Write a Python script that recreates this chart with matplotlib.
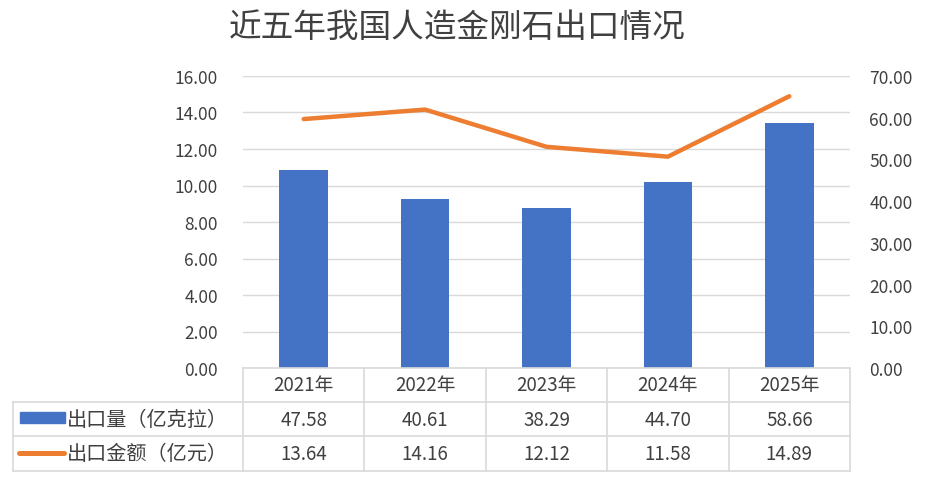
import matplotlib
matplotlib.use("Agg")
import matplotlib.pyplot as plt
from matplotlib.lines import Line2D
from matplotlib.patches import Rectangle

plt.rcParams['font.family'] = ['Noto Sans CJK SC', 'DejaVu Sans']

title = "近五年我国人造金刚石出口情况"
years = ["2021年", "2022年", "2023年", "2024年", "2025年"]
volume = [47.58, 40.61, 38.29, 44.70, 58.66]   # 出口量（亿克拉） – right axis
value = [13.64, 14.16, 12.12, 11.58, 14.89]    # 出口金额（亿元） – left axis
vol_label = "出口量（亿克拉）"
val_label = "出口金额（亿元）"
left_ticks = [0, 2, 4, 6, 8, 10, 12, 14, 16]
right_ticks = [0, 10, 20, 30, 40, 50, 60, 70]

BLUE = "#4472C4"
ORANGE = "#ED7D31"
GRID = "#D9D9D9"
TXT = "#404040"

W, H = 930, 481
fig = plt.figure(figsize=(W/100, H/100), dpi=100)

x0, x1, ytop, ybot = 243, 850, 77, 369
ax = fig.add_axes([x0/W, 1-ybot/H, (x1-x0)/W, (ybot-ytop)/H])
ax2 = ax.twinx()
ax.set_zorder(ax2.get_zorder()+1)
ax.patch.set_visible(False)

xs = list(range(len(years)))
ax.set_xlim(-0.5, len(years)-0.5)
ax.set_ylim(left_ticks[0], left_ticks[-1])
ax2.set_ylim(right_ticks[0], right_ticks[-1])

for t in left_ticks:
    ax2.axhline(t*right_ticks[-1]/left_ticks[-1], color=GRID, lw=1, zorder=0)
ax2.bar(xs, volume, width=0.4, color=BLUE, zorder=2)
ax.plot(xs, value, color=ORANGE, lw=3.2, solid_capstyle='round', zorder=3)

ax.set_yticks(left_ticks)
ax2.set_yticks(right_ticks)
ax.set_yticklabels([f"{v:.2f}" for v in left_ticks])
ax2.set_yticklabels([f"{v:.2f}" for v in right_ticks])
for a in (ax, ax2):
    for s in a.spines.values():
        s.set_visible(False)
    a.tick_params(axis='y', length=0, labelsize=12.5, labelcolor=TXT)
    a.set_xticks([])
ax.tick_params(axis='y', pad=18)
ax2.tick_params(axis='y', pad=14)

fig.text(457/W, 1-28/H, title, ha='center', va='center', fontsize=23.5, color=TXT)

# data table (pixel coordinates)
def px(x, y):
    return x/W, 1-y/H

colw = (x1-x0)/len(years)
rows = [369, 403, 437, 472]
lx = 13
def hline(y, xa, xb):
    fig.add_artist(Line2D([xa/W, xb/W], [1-y/H, 1-y/H], color=GRID, lw=1.2))
def vline(x, ya, yb):
    fig.add_artist(Line2D([x/W, x/W], [1-ya/H, 1-yb/H], color=GRID, lw=1.2))

hline(rows[0], x0, x1)
for y in rows[1:]:
    hline(y, lx, x1)
for i in range(len(years)+1):
    vline(x0+i*colw, rows[0], rows[3])
vline(lx, rows[1], rows[3])

for i, yr in enumerate(years):
    cx = x0 + (i+0.5)*colw
    fig.text(*px(cx, (rows[0]+rows[1])/2), yr, ha='center', va='center', fontsize=13.5, color=TXT)
    fig.text(*px(cx, (rows[1]+rows[2])/2), f"{volume[i]:.2f}", ha='center', va='center', fontsize=13.5, color=TXT)
    fig.text(*px(cx, (rows[2]+rows[3])/2), f"{value[i]:.2f}", ha='center', va='center', fontsize=13.5, color=TXT)

# legend keys
fig.add_artist(Rectangle(px(20, 424), 45/W, 11/H, color=BLUE))
fig.text(*px(67, (rows[1]+rows[2])/2), vol_label, ha='left', va='center', fontsize=14.5, color=TXT)
fig.add_artist(Line2D([19/W, 64/W], [1-454/H, 1-454/H], color=ORANGE, lw=3.6, solid_capstyle='round'))
fig.text(*px(67, (rows[2]+rows[3])/2), val_label, ha='left', va='center', fontsize=14.5, color=TXT)

fig.savefig("out.png", dpi=100)
